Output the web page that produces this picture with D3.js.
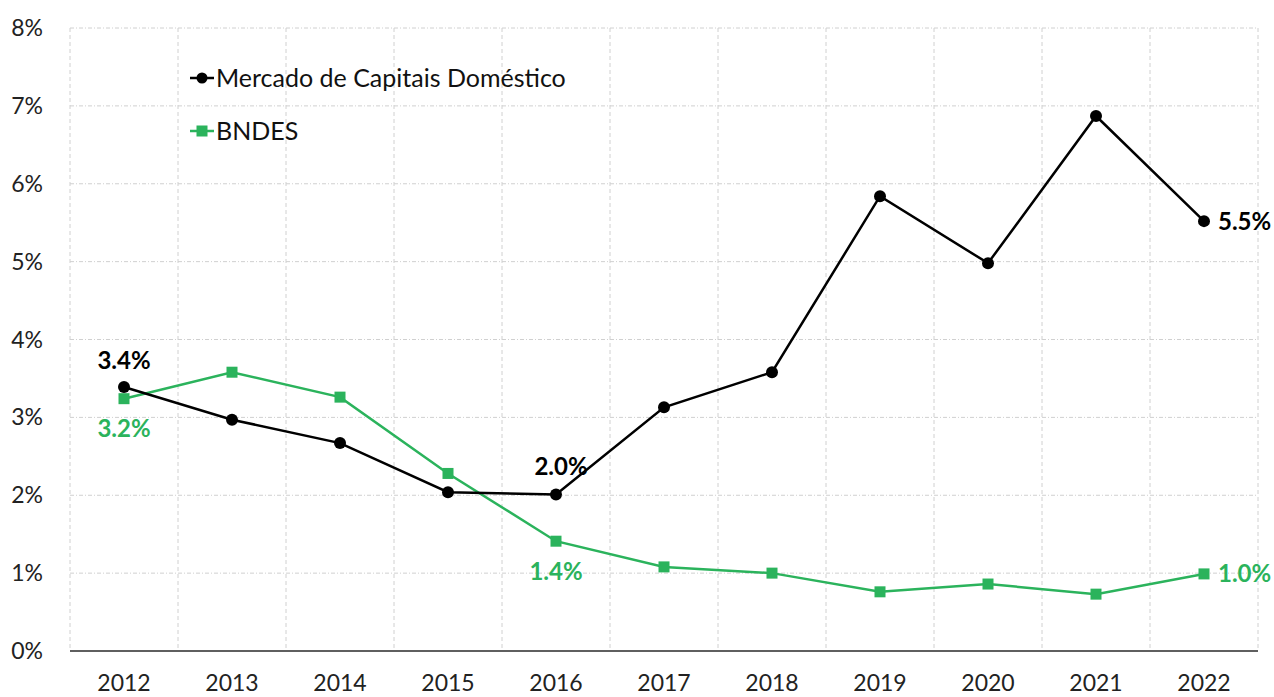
<!DOCTYPE html>
<html>
<head>
<meta charset="utf-8">
<script src="https://cdn.jsdelivr.net/npm/d3@7"></script>
<style>
  body { margin: 0; background: #fff; }
  svg { font-family: Lato, "Open Sans", sans-serif; }
</style>
</head>
<body>
<script>
// dados
const years = ["2012","2013","2014","2015","2016","2017","2018","2019","2020","2021","2022"];
const mercado = [3.39, 2.97, 2.67, 2.04, 2.01, 3.13, 3.58, 5.84, 4.98, 6.87, 5.52];
const bndes = [3.24, 3.58, 3.26, 2.28, 1.41, 1.08, 1.00, 0.76, 0.86, 0.73, 0.99];
const yTicks = [0, 1, 2, 3, 4, 5, 6, 7, 8];
const seriesNames = ["Mercado de Capitais Doméstico", "BNDES"];

const width = 1274, height = 697;
const margin = { top: 28, right: 16, bottom: 46, left: 70 };
const black = "#000000", green = "#2bb35c";

const svg = d3.select("body").append("svg")
  .attr("width", width)
  .attr("height", height);

const x = d3.scaleBand()
  .domain(years)
  .range([margin.left, width - margin.right]);

const y = d3.scaleLinear()
  .domain([0, 8])
  .range([height - margin.bottom, margin.top]);

// grade
const grid = svg.append("g");
grid.selectAll("line.h")
  .data(yTicks.slice(1))
  .join("line")
  .attr("x1", margin.left).attr("x2", width - margin.right)
  .attr("y1", d => y(d)).attr("y2", d => y(d))
  .attr("stroke", "#d0d0d0").attr("stroke-dasharray", "4,2,1,2");

const vlines = years.map(d => x(d)).concat([x.range()[1]]);
grid.selectAll("line.v")
  .data(vlines)
  .join("line")
  .attr("x1", d => d).attr("x2", d => d)
  .attr("y1", margin.top).attr("y2", y(0))
  .attr("stroke", "#d0d0d0").attr("stroke-dasharray", "4,3");

// eixo Y
svg.append("g")
  .selectAll("text")
  .data(yTicks)
  .join("text")
  .attr("x", 43)
  .attr("y", d => y(d))
  .attr("dy", "0.35em")
  .attr("text-anchor", "end")
  .attr("font-size", 23)
  .attr("fill", "#222")
  .text(d => d + "%");

// eixo X
svg.append("line")
  .attr("x1", margin.left).attr("x2", width - margin.right)
  .attr("y1", y(0)).attr("y2", y(0))
  .attr("stroke", "#5f5f5f").attr("stroke-width", 2);

svg.append("g")
  .selectAll("text")
  .data(years)
  .join("text")
  .attr("x", d => x(d) + x.bandwidth() / 2)
  .attr("y", 691)
  .attr("text-anchor", "middle")
  .attr("font-size", 23)
  .attr("fill", "#222")
  .text(d => d);

const cx = (d, i) => x(years[i]) + x.bandwidth() / 2;
const line = d3.line().x(cx).y(d => y(d));

// BNDES
svg.append("path")
  .datum(bndes)
  .attr("d", line)
  .attr("fill", "none")
  .attr("stroke", green)
  .attr("stroke-width", 2.5);
svg.selectAll("rect.bn")
  .data(bndes)
  .join("rect")
  .attr("x", (d, i) => cx(d, i) - 5.5)
  .attr("y", d => y(d) - 5.5)
  .attr("width", 11).attr("height", 11)
  .attr("fill", green);

// Mercado
svg.append("path")
  .datum(mercado)
  .attr("d", line)
  .attr("fill", "none")
  .attr("stroke", black)
  .attr("stroke-width", 2.5);
svg.selectAll("circle.mc")
  .data(mercado)
  .join("circle")
  .attr("cx", cx)
  .attr("cy", d => y(d))
  .attr("r", 6)
  .attr("fill", black);

// rótulos
const labels = [
  { s: mercado, i: 0, dx: 0, dy: -26, anchor: "middle", color: black },
  { s: mercado, i: 4, dx: 5, dy: -28, anchor: "middle", color: black },
  { s: mercado, i: 10, dx: 14, dy: 0, anchor: "start", color: black },
  { s: bndes, i: 0, dx: 0, dy: 30, anchor: "middle", color: green },
  { s: bndes, i: 4, dx: 0, dy: 30, anchor: "middle", color: green },
  { s: bndes, i: 10, dx: 14, dy: 0, anchor: "start", color: green }
];
svg.append("g")
  .selectAll("text")
  .data(labels)
  .join("text")
  .attr("x", d => cx(d.s[d.i], d.i) + d.dx)
  .attr("y", d => y(d.s[d.i]) + d.dy)
  .attr("dy", "0.35em")
  .attr("text-anchor", d => d.anchor)
  .attr("font-size", 24)
  .attr("font-weight", "bold")
  .attr("fill", d => d.color)
  .text(d => d.s[d.i].toFixed(1) + "%");

// legenda
const legend = svg.append("g");
const legY = [78, 131];
const legColors = [black, green];
seriesNames.forEach((name, k) => {
  legend.append("line")
    .attr("x1", 190).attr("x2", 214)
    .attr("y1", legY[k]).attr("y2", legY[k])
    .attr("stroke", legColors[k]).attr("stroke-width", 2.5);
  if (k === 0) {
    legend.append("circle").attr("cx", 202).attr("cy", legY[k]).attr("r", 5.5).attr("fill", black);
  } else {
    legend.append("rect").attr("x", 196.5).attr("y", legY[k] - 5.5).attr("width", 11).attr("height", 11).attr("fill", green);
  }
  legend.append("text")
    .attr("x", 216)
    .attr("y", legY[k])
    .attr("dy", "0.35em")
    .attr("font-size", 25)
    .attr("fill", "#111")
    .text(name);
});
</script>
</body>
</html>
